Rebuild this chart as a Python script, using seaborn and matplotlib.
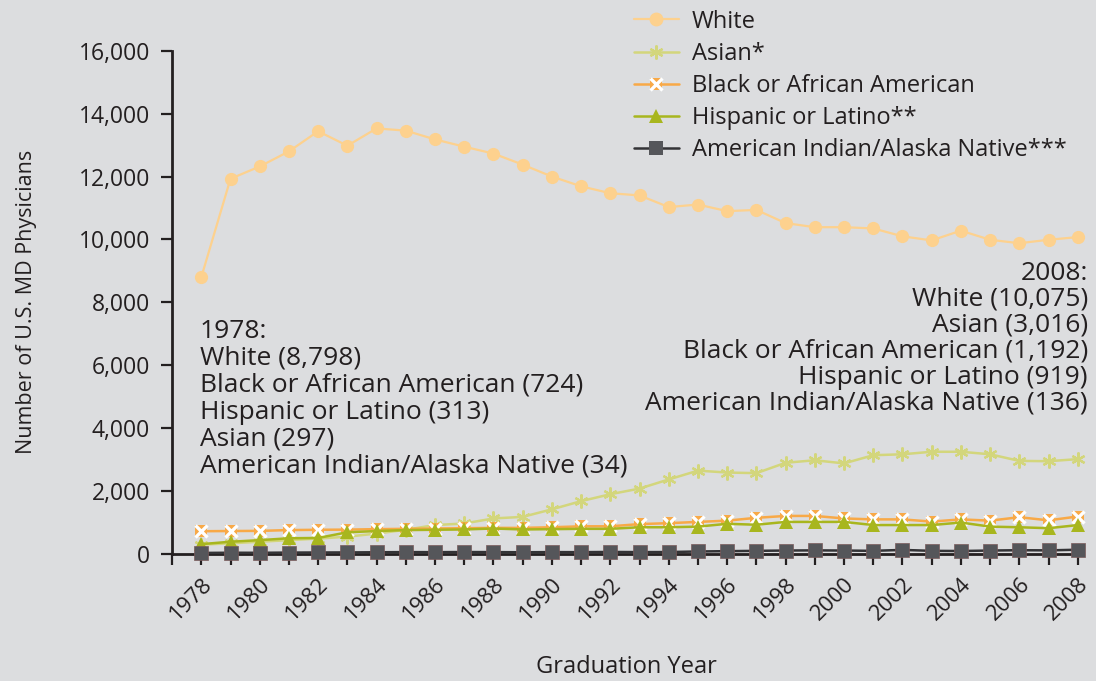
import numpy as np
import pandas as pd
import matplotlib
matplotlib.use("Agg")
import matplotlib.pyplot as plt
from matplotlib.lines import Line2D
from matplotlib.ticker import FuncFormatter, MultipleLocator
import seaborn as sns

years = list(range(1978, 2009))

white = [8798, 11930, 12320, 12800, 13440, 12980, 13530, 13460, 13180, 12950,
         12730, 12380, 12000, 11690, 11470, 11400, 11030, 11110, 10900, 10940,
         10520, 10390, 10390, 10350, 10100, 9970, 10280, 9990, 9880, 9990, 10075]
asian = [297, 340, 390, 440, 490, 550, 650, 770, 920, 970,
         1130, 1180, 1420, 1680, 1900, 2080, 2370, 2650, 2590, 2570,
         2900, 2980, 2880, 3140, 3170, 3250, 3250, 3170, 2960, 2950, 3016]
black = [724, 730, 735, 760, 770, 775, 790, 800, 810, 820,
         830, 830, 850, 880, 880, 950, 980, 1020, 1060, 1150,
         1210, 1210, 1130, 1100, 1100, 1030, 1100, 1060, 1170, 1070, 1192]
hispanic = [313, 390, 440, 500, 510, 690, 730, 760, 770, 780,
            810, 780, 790, 800, 800, 850, 850, 870, 960, 930,
            1020, 1020, 1020, 920, 920, 920, 1000, 870, 850, 820, 919]
aian = [34, 40, 38, 45, 48, 50, 55, 60, 58, 62,
        60, 55, 60, 58, 65, 60, 62, 80, 90, 100,
        110, 115, 110, 100, 130, 100, 95, 110, 120, 115, 136]

bg = "#dcdddf"
ink = "#231f20"

sns.set_theme(style="ticks")
plt.rcParams["font.family"] = ["Open Sans", "DejaVu Sans"]

fig = plt.figure(figsize=(10.96, 6.81), dpi=100, facecolor=bg)
ax = fig.add_axes([0.157, 0.1865, 0.829, 0.739])
ax.set_facecolor(bg)

df = pd.DataFrame({"year": years, "White": white, "Asian": asian, "Black": black,
                   "Hispanic": hispanic, "AIAN": aian})

c_white = "#fdd18e"
c_asian = "#d3d67c"
c_black = "#f8a947"
c_hisp = "#a8b61e"
c_aian = "#55565a"

sns.lineplot(data=df, x="year", y="White", ax=ax, color=c_white, lw=1.6,
             marker="o", markersize=9.5, markeredgewidth=0, clip_on=False, zorder=3)
sns.lineplot(data=df, x="year", y="Asian", ax=ax, color=c_asian, lw=1.8,
             marker=(6, 2, 0), markersize=10, markeredgewidth=1.6,
             markeredgecolor=c_asian, clip_on=False, zorder=3)
sns.lineplot(data=df, x="year", y="Black", ax=ax, color=c_black, lw=1.8,
             marker="s", markersize=8.5, markeredgewidth=0, clip_on=False, zorder=4)
sns.lineplot(data=df, x="year", y="Black", ax=ax, color=c_black, lw=0,
             marker="x", markersize=8.5, markeredgewidth=2.4,
             markeredgecolor="white", clip_on=False, zorder=4)
sns.lineplot(data=df, x="year", y="Hispanic", ax=ax, color=c_hisp, lw=1.8,
             marker="^", markersize=9.5, markeredgewidth=0, clip_on=False, zorder=5)
sns.lineplot(data=df, x="year", y="AIAN", ax=ax, color="#333336", lw=1.8,
             marker="s", markersize=10, markerfacecolor=c_aian, markeredgewidth=0.5,
             markeredgecolor="#7a5a5a", clip_on=False, zorder=6)

ax.set_xlim(1977, 2008.1)
ax.set_ylim(0, 16000)
ax.xaxis.set_minor_locator(MultipleLocator(1))
ax.set_xticks(years[::2])
ax.set_xticklabels([str(y) for y in years[::2]], rotation=45, ha="right",
                   rotation_mode="anchor", fontsize=16, color=ink)
ax.yaxis.set_major_locator(MultipleLocator(2000))
ax.yaxis.set_major_formatter(FuncFormatter(lambda v, p: f"{int(v):,}"))
ax.tick_params(axis="y", labelsize=16.5, labelcolor=ink, length=8, width=1.6,
               color=ink, direction="out", pad=8)
ax.tick_params(axis="x", which="both", length=8, width=1.6, color=ink,
               direction="out", pad=6)
sns.despine(ax=ax)
for s in ["left", "bottom"]:
    ax.spines[s].set_linewidth(2)
    ax.spines[s].set_color(ink)

ax.set_xlabel("Graduation Year", fontsize=17, color=ink, labelpad=22)
ax.set_ylabel("Number of U.S. MD Physicians", fontsize=15.5, color=ink, labelpad=30)

# legend
h_white = Line2D([], [], color=c_white, lw=1.6, marker="o", markersize=10, markeredgewidth=0)
h_asian = Line2D([], [], color=c_asian, lw=1.8, marker=(6, 2, 0), markersize=10,
                 markeredgewidth=1.6, markeredgecolor=c_asian)
h_black_sq = Line2D([], [], color=c_black, lw=1.8, marker="s", markersize=9, markeredgewidth=0)
h_black_x = Line2D([], [], lw=0, marker="x", markersize=9, markeredgewidth=2.4,
                   markeredgecolor="white")
h_hisp = Line2D([], [], color=c_hisp, lw=1.8, marker="^", markersize=10, markeredgewidth=0)
h_aian = Line2D([], [], color="#333336", lw=1.8, marker="s", markersize=10,
                markerfacecolor=c_aian, markeredgewidth=0)
fig.legend([h_white, h_asian, (h_black_sq, h_black_x), h_hisp, h_aian],
           ["White", "Asian*", "Black or African American", "Hispanic or Latino**",
            "American Indian/Alaska Native***"],
           loc="upper left", bbox_to_anchor=(0.5675, 1.003), frameon=False,
           fontsize=17, handlelength=1.9, handletextpad=0.55, labelspacing=0.34,
           borderpad=0, numpoints=1, labelcolor=ink)

left_note = ("1978:\nWhite (8,798)\nBlack or African American (724)\n"
             "Hispanic or Latino (313)\nAsian (297)\nAmerican Indian/Alaska Native (34)")
right_note = ("2008:\nWhite (10,075)\nAsian (3,016)\nBlack or African American (1,192)\n"
              "Hispanic or Latino (919)\nAmerican Indian/Alaska Native (136)")
fig.text(200 / 1096, 1 - 319 / 681, left_note, ha="left", va="top", fontsize=19,
         color=ink, linespacing=1.1)
fig.text(1088 / 1096, 1 - 261 / 681, right_note, ha="right", va="top", fontsize=19,
         color=ink, linespacing=1.05, multialignment="right")

fig.savefig("out.png", dpi=100, facecolor=bg)
